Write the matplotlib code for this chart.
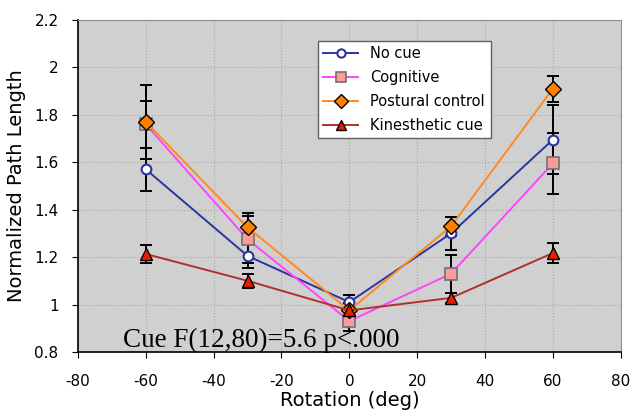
import matplotlib
matplotlib.use('Agg')
import matplotlib.pyplot as plt

plt.rcParams['axes.unicode_minus'] = False

# rotation angles (deg)
rotation = [-60, -30, 0, 30, 60]

# mean normalized path length per cue condition
no_cue = [1.57, 1.205, 1.01, 1.30, 1.695]
cognitive = [1.76, 1.275, 0.93, 1.13, 1.595]
postural = [1.77, 1.325, 0.975, 1.33, 1.91]
kinesthetic = [1.213, 1.10, 0.975, 1.028, 1.217]

# error bar half-widths
no_cue_err = [0.09, 0.05, 0.03, 0.07, 0.145]
cognitive_err = [0.10, 0.10, 0.04, 0.08, 0.13]
postural_err = [0.155, 0.06, 0.03, 0.04, 0.055]
kinesthetic_err = [0.038, 0.03, 0.03, 0.02, 0.042]

labels = ['No cue', 'Cognitive', 'Postural control', 'Kinesthetic cue']

fig = plt.figure(figsize=(6.34, 4.16), dpi=100)
ax = fig.add_axes([0.123, 0.154, 0.856, 0.798])
ax.set_facecolor('#d0d0d0')

series = [
    (no_cue, no_cue_err, dict(color='#2a35a0', marker='o', mfc='white', mec='#2a35a0', ms=7, mew=1.5)),
    (cognitive, cognitive_err, dict(color='#ff44ff', marker='s', mfc='#ff9a9a', mec='#707070', ms=8, mew=1.2)),
    (postural, postural_err, dict(color='#ff8a20', marker='D', mfc='#ff7f00', mec='black', ms=8, mew=1.0)),
    (kinesthetic, kinesthetic_err, dict(color='#b0302a', marker='^', mfc='#e82000', mec='black', ms=9, mew=1.0)),
]

for (vals, errs, style), lab in zip(series, labels):
    ax.errorbar(rotation, vals, yerr=errs, fmt='none', ecolor='black',
                elinewidth=1.4, capsize=4, capthick=1.4, zorder=2)
for (vals, errs, style), lab in zip(series, labels):
    ax.plot(rotation, vals, lw=1.4, label=lab, zorder=3, **style)

ax.set_xlim(-80, 80)
ax.set_ylim(0.8, 2.2)
ax.set_xticks(range(-80, 81, 20))
ax.set_yticks([0.8, 1, 1.2, 1.4, 1.6, 1.8, 2, 2.2])
ax.set_yticklabels(['0.8', '1', '1.2', '1.4', '1.6', '1.8', '2', '2.2'])
ax.grid(True, color='#a8a8a8', ls=':', lw=0.8)
ax.set_axisbelow(True)
ax.tick_params(labelsize=11, direction='out', length=4)
ax.tick_params(axis='x', pad=12)
ax.tick_params(axis='y', pad=10)

for s in ['top', 'right']:
    ax.spines[s].set_color('#909090')
for s in ['left', 'bottom']:
    ax.spines[s].set_color('black')
    ax.spines[s].set_linewidth(1.2)

ax.set_xlabel('Rotation (deg)', fontsize=14, labelpad=1)
ax.set_ylabel('Normalized Path Length', fontsize=14, labelpad=6)

leg = ax.legend(loc='upper left', bbox_to_anchor=(0.428, 0.96), fontsize=10.5,
                fancybox=False, framealpha=1, edgecolor='#606060', markerscale=0.85,
                handlelength=2.4, borderpad=0.4, labelspacing=0.6)
leg.get_frame().set_linewidth(1.0)

ax.text(0.083, 0.016, 'Cue F(12,80)=5.6 p<.000', transform=ax.transAxes,
        family='Liberation Serif', fontsize=19.5, va='baseline', zorder=4)

fig.savefig('out.png', dpi=100)
